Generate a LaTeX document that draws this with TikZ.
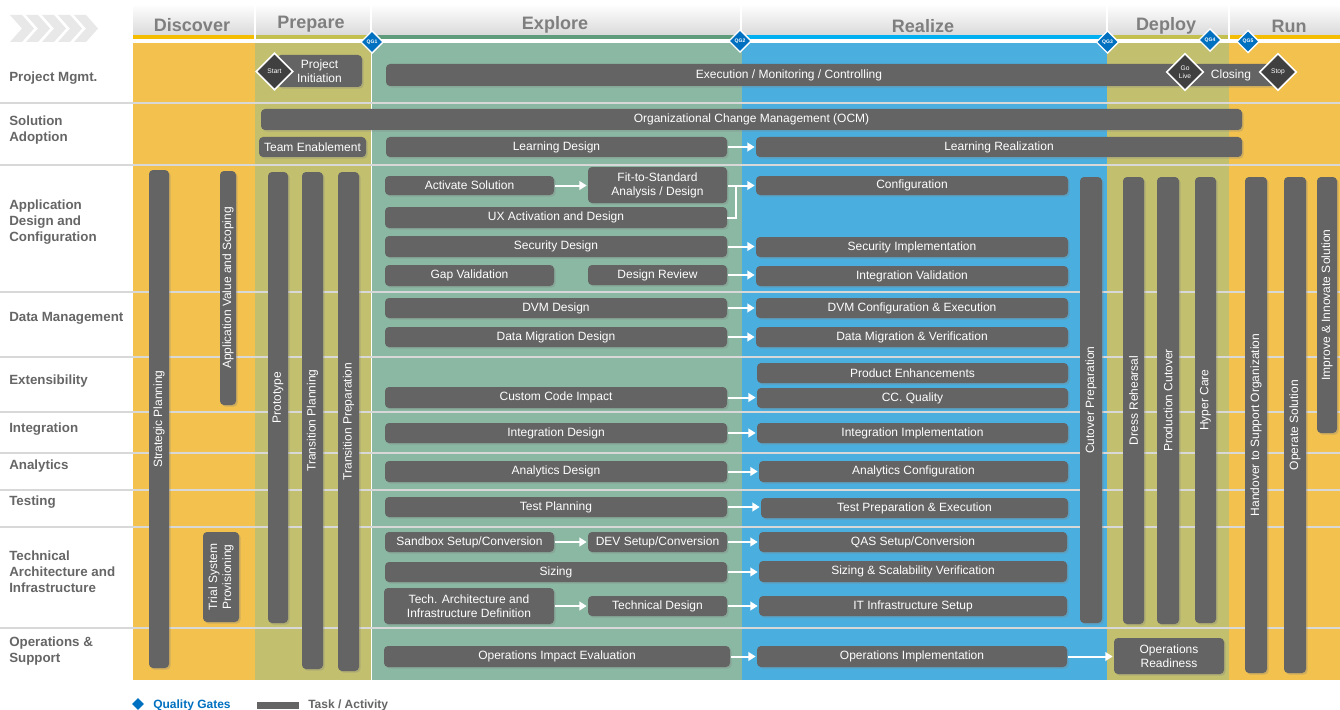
\documentclass[tikz,border=0pt]{standalone}
\usepackage{fontspec}
\setmainfont{Liberation Sans}
\usetikzlibrary{arrows.meta,shapes.geometric,shadows}

\definecolor{taskgray}{HTML}{646464}
\definecolor{discovercol}{HTML}{F2C14E}
\definecolor{preparecol}{HTML}{C2C06E}
\definecolor{explorecol}{HTML}{8BB8A3}
\definecolor{realizecol}{HTML}{4AAEDF}
\definecolor{stripeyellow}{HTML}{F5BD00}
\definecolor{stripeolive}{HTML}{C3C04F}
\definecolor{stripegreen}{HTML}{5E9C7B}
\definecolor{stripeblue}{HTML}{00B0F0}
\definecolor{gateblue}{HTML}{0070C0}
\definecolor{labelgray}{HTML}{666666}
\definecolor{headgray}{HTML}{7F7F7F}
\definecolor{headshade}{HTML}{DADADA}
\definecolor{rulegray}{HTML}{D8D8D8}
\definecolor{chevgray}{HTML}{E8E8E8}
\definecolor{msgray}{HTML}{404040}

\tikzset{
  task/.style={fill=taskgray, rounded corners=3pt, inner sep=0pt, outer sep=0pt,
    text=white, font=\fontsize{9}{10.5}\selectfont, align=center,
    drop shadow={shadow xshift=1.2pt, shadow yshift=-1.2pt, opacity=0.3}},
  vtext/.style={rotate=90, text=white, font=\fontsize{9}{10.5}\selectfont, align=center, inner sep=0pt},
  rowlabel/.style={anchor=west, text=labelgray, font=\bfseries\fontsize{10}{12}\selectfont, align=left, inner sep=0pt},
  phase/.style={text=headgray, font=\bfseries\fontsize{13.5}{16}\selectfont, inner sep=0pt},
  flow/.style={draw=white, line width=1.5pt, shorten <=1pt, shorten >=1pt, -{Triangle[length=5.5pt,width=6.5pt]}},
  gate/.style={diamond, aspect=1, fill=gateblue, draw=white, line width=1pt, minimum size=17pt,
    inner sep=0pt, text=white, font=\bfseries\fontsize{3.8}{4}\selectfont},
  msdiamond/.style={diamond, aspect=1, fill=msgray, draw=white, line width=1.2pt, minimum size=28pt,
    inner sep=0pt, text=white, font=\fontsize{5}{6}\selectfont, align=center},
  legendtext/.style={anchor=west, font=\bfseries\fontsize{9}{10}\selectfont, inner sep=0pt},
}

% task box given by its two corners (in pixel units of 0.75pt)
\newcommand\taskbox[6]{\node[task, minimum width={(#4-#2)*0.75pt}, minimum height={(#5-#3)*0.75pt}]
  (#1) at ({(#2+#4)/2},{(#3+#5)/2}) {#6};}
% vertical task bar with rotated caption
\newcommand\vtask[6]{\taskbox{#1}{#2}{#3}{#4}{#5}{}
  \node[vtext] at (#1.center) {#6};}

\begin{document}
\begin{tikzpicture}[x=0.75pt, y=-0.75pt]
\useasboundingbox (0,0) rectangle (1340,710);
\fill[white] (0,0) rectangle (1340,710);

% chevrons
\foreach \i in {0,...,4}{
  \fill[chevgray] ({10+16*\i},15) -- ++(12,0) -- ++(12,13.5) -- ++(-12,13.5) -- ++(-12,0) -- ++(12,-13.5) -- cycle;
}

% phase header band
\shade[top color=white, bottom color=headshade] (133,4) rectangle (1340,35);
\fill[stripeyellow] (133,35) rectangle (254,39);
\fill[stripeolive] (256,35) rectangle (370,39);
\fill[stripegreen] (372,35) rectangle (740,39);
\fill[stripeblue] (742,35) rectangle (1106,39);
\fill[stripeolive] (1108,35) rectangle (1228,39);
\fill[stripeyellow] (1230,35) rectangle (1340,39);
\foreach \x in {255,371,741,1107,1229} \draw[white, line width=1.5pt] (\x,4) -- (\x,39);

\node[phase] (phdiscover) at (192,25) {Discover};
\node[phase] (phprepare) at (311,24) {Prepare};
\node[phase] (phexplore) at (555,25) {Explore};
\node[phase] (phrealize) at (923,26) {Realize};
\node[phase] (phdeploy) at (1166,26) {Deploy};
\node[phase] (phrun) at (1289,26) {Run};

% phase columns
\fill[discovercol] (133,43) rectangle (255,680);
\fill[preparecol] (255,43) rectangle (371,680);
\fill[explorecol] (371,43) rectangle (742,680);
\fill[realizecol] (742,43) rectangle (1107,680);
\fill[preparecol] (1107,43) rectangle (1229,680);
\fill[discovercol] (1229,43) rectangle (1340,680);
\draw[white, line width=1pt] (371.5,43) -- (371.5,680);

% row rules
\foreach \y in {103,165,292,357,412,453,490,527,628} \draw[rulegray, line width=1.5pt] (0,\y) -- (1340,\y);

% row labels
\node[rowlabel] (rpm) at (9,78) {Project Mgmt.};
\node[rowlabel] (rsa) at (9,130) {Solution\\Adoption};
\node[rowlabel] (rad) at (9,222) {Application\\Design and\\Configuration};
\node[rowlabel] (rdm) at (9,318) {Data Management};
\node[rowlabel] (rex) at (9,381) {Extensibility};
\node[rowlabel] (rin) at (9,429) {Integration};
\node[rowlabel] (ran) at (9,466) {Analytics};
\node[rowlabel] (rte) at (9,502) {Testing};
\node[rowlabel] (rta) at (9,572) {Technical\\Architecture and\\Infrastructure};
\node[rowlabel] (ros) at (9,651) {Operations \&\\Support};

% project management
\taskbox{pi}{277}{55}{362}{87}{Project\\Initiation}
\taskbox{exec}{386}{64}{1192}{86}{Execution / Monitoring / Controlling}
\taskbox{closing}{1186}{64}{1276}{86}{Closing}

% solution adoption
\taskbox{ocm}{261}{109}{1242}{130}{Organizational Change Management (OCM)}
\taskbox{te}{259}{137}{366}{157}{Team Enablement}
\taskbox{ld}{386}{137}{727}{157}{Learning Design}
\taskbox{lr}{756}{137}{1242}{157}{Learning Realization}

% vertical activities
\vtask{sp}{149}{170}{169}{668}{Strategic Planning}
\vtask{avs}{220}{171}{236}{405}{Application Value and Scoping}
\vtask{proto}{268}{172}{288}{623}{Prototype}
\vtask{tpl}{302}{172}{323}{669}{Transition Planning}
\vtask{tpr}{338}{172}{359}{671}{Transition Preparation}
\vtask{tsp}{203}{532}{239}{622}{Trial System\\Provisioning}
\vtask{cp}{1080}{177}{1102}{623}{Cutover Preparation}
\vtask{dress}{1123}{177}{1144}{624}{Dress Rehearsal}
\vtask{pc}{1157}{177}{1179}{624}{Production Cutover}
\vtask{hc}{1195}{177}{1216}{623}{Hyper Care}
\vtask{hso}{1245}{177}{1267}{673}{Handover to Support Organization}
\vtask{os}{1284}{177}{1306}{673}{Operate Solution}
\vtask{iis}{1317}{177}{1337}{433}{Improve \& Innovate Solution}

% application design and configuration
\taskbox{as}{385}{176}{554}{195}{Activate Solution}
\taskbox{fts}{588}{167}{727}{203}{Fit-to-Standard\\Analysis / Design}
\taskbox{ux}{385}{207}{727}{228}{UX Activation and Design}
\taskbox{sd}{385}{236}{727}{257}{Security Design}
\taskbox{gv}{385}{265}{554}{286}{Gap Validation}
\taskbox{dr}{588}{265}{727}{285}{Design Review}
\taskbox{conf}{756}{176}{1068}{195}{Configuration}
\taskbox{si}{756}{237}{1068}{257}{Security Implementation}
\taskbox{iv}{756}{266}{1068}{286}{Integration Validation}

% data management
\taskbox{dvmd}{385}{298}{727}{318}{DVM Design}
\taskbox{dmd}{385}{327}{727}{347}{Data Migration Design}
\taskbox{dvmc}{756}{298}{1068}{318}{DVM Configuration \& Execution}
\taskbox{dmv}{756}{327}{1068}{347}{Data Migration \& Verification}

% extensibility
\taskbox{pe}{757}{363}{1068}{383}{Product Enhancements}
\taskbox{cci}{385}{387}{727}{408}{Custom Code Impact}
\taskbox{ccq}{757}{388}{1068}{408}{CC. Quality}

% integration, analytics, testing
\taskbox{intd}{385}{423}{727}{443}{Integration Design}
\taskbox{inti}{757}{423}{1068}{443}{Integration Implementation}
\taskbox{and}{385}{461}{727}{482}{Analytics Design}
\taskbox{anc}{759}{461}{1068}{482}{Analytics Configuration}
\taskbox{tp}{385}{497}{727}{517}{Test Planning}
\taskbox{tpe}{761}{498}{1068}{518}{Test Preparation \& Execution}

% technical architecture and infrastructure
\taskbox{sb}{385}{532}{554}{552}{Sandbox Setup/Conversion}
\taskbox{dev}{588}{532}{727}{552}{DEV Setup/Conversion}
\taskbox{siz}{385}{562}{727}{582}{Sizing}
\taskbox{tad}{384}{588}{554}{624}{Tech. Architecture and\\Infrastructure Definition}
\taskbox{td}{588}{596}{727}{616}{Technical Design}
\taskbox{qas}{759}{532}{1067}{552}{QAS Setup/Conversion}
\taskbox{ssv}{759}{561}{1067}{582}{Sizing \& Scalability Verification}
\taskbox{its}{759}{596}{1067}{616}{IT Infrastructure Setup}

% operations and support
\taskbox{oie}{384}{646}{730}{667}{Operations Impact Evaluation}
\taskbox{oi}{757}{646}{1067}{667}{Operations Implementation}
\taskbox{ordy}{1114}{638}{1224}{674}{Operations\\Readiness}

% flows
\draw[flow] (ld.east) -- (ld.east -| lr.west);
\draw[flow] (as.east) -- (as.east -| fts.west);
\draw[flow] (fts.east |- conf.west) -- (conf.west);
\coordinate (uxjoin) at (736,186);
\draw[white, line width=1.5pt] (ux.east) -| (uxjoin);
\draw[flow] (sd.east) -- (sd.east -| si.west);
\draw[flow] (dr.east) -- (dr.east -| iv.west);
\draw[flow] (dvmd.east) -- (dvmd.east -| dvmc.west);
\draw[flow] (dmd.east) -- (dmd.east -| dmv.west);
\draw[flow] (cci.east) -- (cci.east -| ccq.west);
\draw[flow] (intd.east) -- (intd.east -| inti.west);
\draw[flow] (and.east) -- (and.east -| anc.west);
\draw[flow] (tp.east) -- (tp.east -| tpe.west);
\draw[flow] (sb.east) -- (sb.east -| dev.west);
\draw[flow] (dev.east) -- (dev.east -| qas.west);
\draw[flow] (siz.east) -- (siz.east -| ssv.west);
\draw[flow] (tad.east |- td.west) -- (td.west);
\draw[flow] (td.east) -- (td.east -| its.west);
\draw[flow] (oie.east) -- (oie.east -| oi.west);
\draw[flow] (oi.east) -- (oi.east -| ordy.west);

% milestones
\node[msdiamond] (start) at (274.5,71.5) {Start};
\node[msdiamond] (golive) at (1185,72) {Go\\Live};
\node[msdiamond] (stop) at (1278,72) {Stop};

% quality gates
\node[gate] (qg1) at (372,42) {QG1};
\node[gate] (qg2) at (740,41) {QG2};
\node[gate] (qg3) at (1107.5,42) {QG3};
\node[gate] (qg4) at (1210,40) {QG4};
\node[gate] (qg5) at (1248,41.5) {QG5};

% legend
\node[diamond, aspect=1, fill=gateblue, minimum size=9pt, inner sep=0pt] (lgate) at (138,704) {};
\node[legendtext, text=gateblue] (lgatetext) at (153,705) {Quality Gates};
\node[fill=taskgray, inner sep=0pt, minimum width={42*0.75pt}, minimum height={7*0.75pt}] (ltask) at (278,705.5) {};
\node[legendtext, text=labelgray] (ltasktext) at (308,705) {Task / Activity};
\end{tikzpicture}
\end{document}
